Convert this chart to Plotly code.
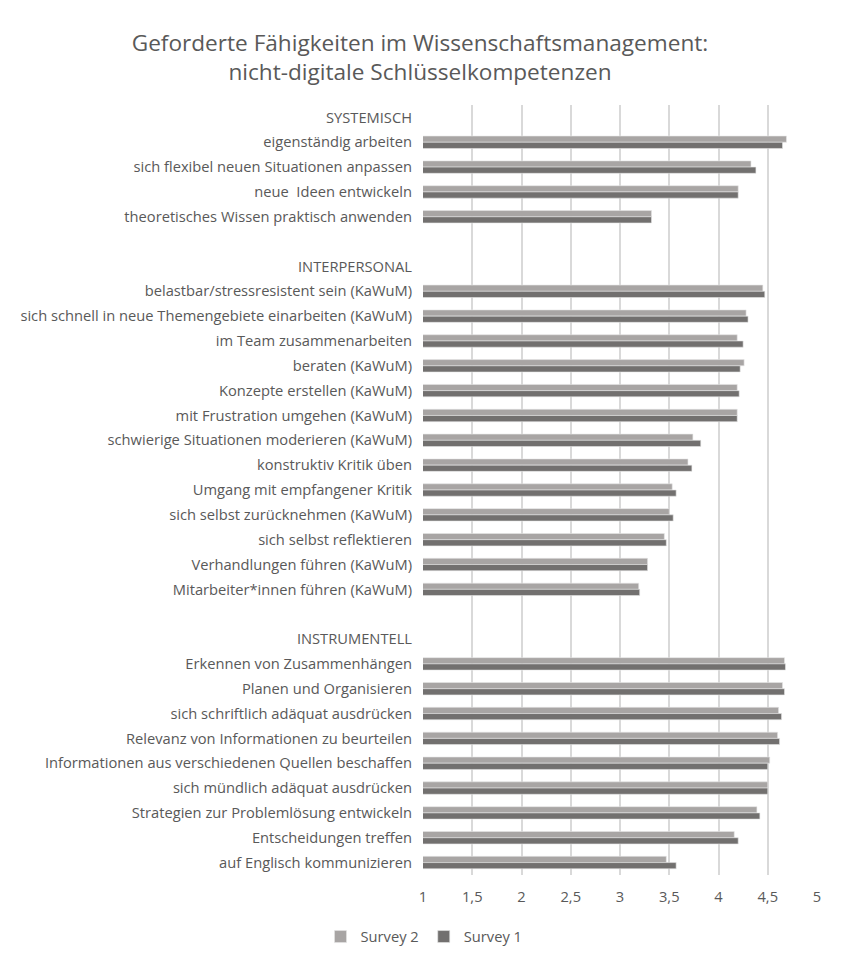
import plotly.graph_objects as go

categories = [
    "SYSTEMISCH",
    "eigenständig arbeiten",
    "sich flexibel neuen Situationen anpassen",
    "neue  Ideen entwickeln",
    "theoretisches Wissen praktisch anwenden",
    " ",
    "INTERPERSONAL",
    "belastbar/stressresistent sein (KaWuM)",
    "sich schnell in neue Themengebiete einarbeiten (KaWuM)",
    "im Team zusammenarbeiten",
    "beraten (KaWuM)",
    "Konzepte erstellen (KaWuM)",
    "mit Frustration umgehen (KaWuM)",
    "schwierige Situationen moderieren (KaWuM)",
    "konstruktiv Kritik üben",
    "Umgang mit empfangener Kritik",
    "sich selbst zurücknehmen (KaWuM)",
    "sich selbst reflektieren",
    "Verhandlungen führen (KaWuM)",
    "Mitarbeiter*innen führen (KaWuM)",
    "  ",
    "INSTRUMENTELL",
    "Erkennen von Zusammenhängen",
    "Planen und Organisieren",
    "sich schriftlich adäquat ausdrücken",
    "Relevanz von Informationen zu beurteilen",
    "Informationen aus verschiedenen Quellen beschaffen",
    "sich mündlich adäquat ausdrücken",
    "Strategien zur Problemlösung entwickeln",
    "Entscheidungen treffen",
    "auf Englisch kommunizieren",
]

survey2 = [
    None, 4.69, 4.33, 4.20, 3.32,
    None, None,
    4.45, 4.28, 4.19, 4.26, 4.19, 4.19, 3.74, 3.69, 3.53, 3.50, 3.45, 3.28, 3.19,
    None, None,
    4.67, 4.65, 4.61, 4.60, 4.52, 4.50, 4.39, 4.16, 3.47,
]

survey1 = [
    None, 4.65, 4.38, 4.20, 3.32,
    None, None,
    4.47, 4.30, 4.25, 4.22, 4.21, 4.19, 3.82, 3.73, 3.57, 3.54, 3.47, 3.28, 3.20,
    None, None,
    4.68, 4.67, 4.64, 4.62, 4.50, 4.50, 4.42, 4.20, 3.57,
]

tick_vals = [1, 1.5, 2, 2.5, 3, 3.5, 4, 4.5, 5]
tick_text = ["1", "1,5", "2", "2,5", "3", "3,5", "4", "4,5", "5"]

FONT = "'Open Sans', Lato, sans-serif"
TXT = "#595959"
W, H = 825, 938
FS = 14.7

fig = go.Figure()
fig.add_trace(go.Bar(
    name="Survey 2", y=categories, x=survey2, orientation="h",
    marker=dict(color="#a8a5a4", line=dict(color="#e6e6e6", width=0.6)),
))
fig.add_trace(go.Bar(
    name="Survey 1", y=categories, x=survey1, orientation="h",
    marker=dict(color="#72706f", line=dict(color="#e6e6e6", width=0.6)),
))

fig.update_layout(
    width=W, height=H,
    margin=dict(l=415, r=14, t=97, b=71, pad=0),
    paper_bgcolor="white", plot_bgcolor="white",
    barmode="group", bargap=0.5, bargroupgap=0,
    font=dict(family=FONT, size=FS, color=TXT),
    title=dict(
        text="Geforderte Fähigkeiten im Wissenschaftsmanagement:<br>nicht-digitale Schlüsselkompetenzen",
        x=412 / W, xref="container", xanchor="center",
        y=1 - 43 / H, yref="container", yanchor="middle",
        font=dict(family=FONT, size=22.6, color=TXT),
    ),
    showlegend=True,
    legend=dict(
        orientation="h", x=416 / W, xref="container", xanchor="center",
        y=1 - 929 / H, yref="container", yanchor="middle",
        font=dict(family=FONT, size=FS, color=TXT),
        itemwidth=30, traceorder="normal",
    ),
    xaxis=dict(
        range=[1, 5], tickvals=tick_vals, ticktext=tick_text,
        showgrid=True, gridcolor="#d9d9d9", gridwidth=1.5,
        zeroline=False, showline=False, ticks="", ticklabelstandoff=11,
        tickfont=dict(family=FONT, size=FS, color=TXT),
        fixedrange=True,
    ),
    yaxis=dict(
        type="category", categoryorder="array", categoryarray=categories,
        autorange="reversed", showgrid=False, zeroline=False,
        showline=False, ticks="", ticklabelstandoff=10,
        tickfont=dict(family=FONT, size=FS, color=TXT),
        fixedrange=True,
    ),
)

fig.write_html("out.html")
